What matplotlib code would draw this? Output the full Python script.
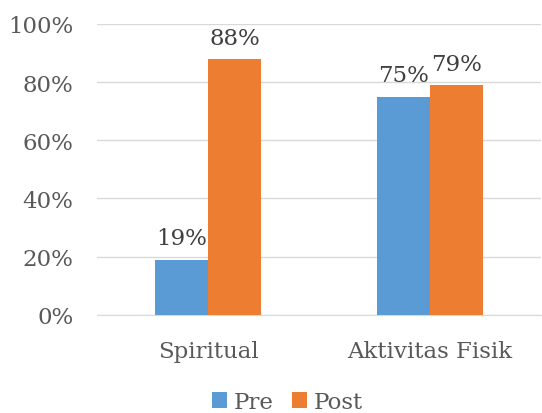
import numpy as np
import matplotlib.pyplot as plt
from matplotlib.ticker import PercentFormatter

categories = ["Spiritual", "Aktivitas Fisik"]
pre = [19, 75]
post = [88, 79]
series_names = ["Pre", "Post"]

plt.rcParams['font.family'] = ['DejaVu Serif']
text_col = "#595959"

fig = plt.figure(figsize=(5.42, 4.14), dpi=100)
ax = fig.add_axes([0.179, 0.237, 0.819, 0.703])

x = np.arange(len(categories))
w = 0.24
b1 = ax.bar(x - w / 2, pre, w, color="#5B9BD5", label=series_names[0], zorder=3)
b2 = ax.bar(x + w / 2, post, w, color="#ED7D31", label=series_names[1], zorder=3)

for bars in (b1, b2):
    for r in bars:
        ax.text(r.get_x() + r.get_width() / 2, r.get_height() + 3.5, f"{r.get_height():.0f}%",
                ha="center", va="bottom", fontsize=16.5, color="#404040")

ax.set_xlim(-0.5, 1.5)
ax.set_ylim(0, 100)
ax.set_yticks(range(0, 101, 20))
ax.yaxis.set_major_formatter(PercentFormatter(decimals=0))
ax.set_xticks(x)
ax.set_xticklabels(categories)
ax.tick_params(axis="both", length=0, labelsize=16.5, labelcolor=text_col)
ax.tick_params(axis="y", pad=17)
ax.tick_params(axis="x", pad=18)
ax.grid(axis="y", color="#D9D9D9", linewidth=1, zorder=0)
for s in ["top", "right", "left"]:
    ax.spines[s].set_visible(False)
ax.spines["bottom"].set_color("#D9D9D9")

fig.legend(loc="lower center", bbox_to_anchor=(0.53, -0.05), ncol=2, frameon=False,
           fontsize=16.5, handlelength=0.65, handleheight=0.65, handletextpad=0.3,
           columnspacing=0.8, labelcolor=text_col)

fig.savefig("out.png", dpi=100)
